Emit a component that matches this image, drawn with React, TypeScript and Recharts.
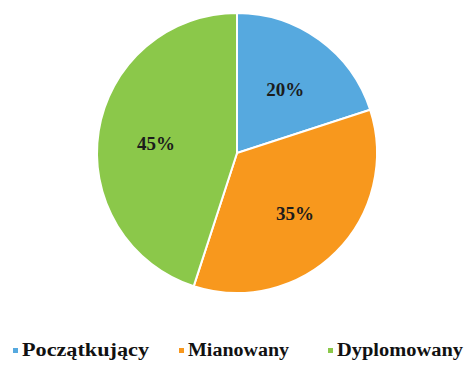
import React from "react";
import { PieChart, Pie, Cell, Legend } from "recharts";

if (typeof document !== "undefined") {
  document.body.style.margin = "0";
}

const categories = ["Początkujący", "Mianowany", "Dyplomowany"];
const values = [20, 35, 45];
const colors = ["#56a9df", "#f8981d", "#8bc84a"];

const data = categories.map((name, i) => ({ name, value: values[i] }));
const total = values.reduce((a, b) => a + b, 0);

const RADIAN = Math.PI / 180;
const renderLabel = (props: any) => {
  const { cx, cy, midAngle, value } = props;
  const r = 82;
  const x = cx + r * Math.cos(-midAngle * RADIAN);
  const y = cy + r * Math.sin(-midAngle * RADIAN) + 3;
  return (
    <text
      x={x}
      y={y}
      textAnchor="middle"
      dominantBaseline="central"
      fontFamily="'Liberation Serif', 'Times New Roman', serif"
      fontWeight="bold"
      fontSize={19}
      fill="#1c1c1c"
    >
      {`${Math.round((value / total) * 100)}%`}
    </text>
  );
};

const legendStarts = [13, 179, 328];
const legendWidths = [127, 101, 126];

const renderLegend = () => (
  <svg width={469} height={30} style={{ display: "block" }}>
    {categories.map((c, i) => (
      <g key={c}>
        <rect x={legendStarts[i]} y={12} width={5} height={5} fill={colors[i]} />
        <text
          x={legendStarts[i] + 9}
          y={20}
          textLength={legendWidths[i]}
          lengthAdjust="spacingAndGlyphs"
          fontFamily="'Liberation Serif', 'Times New Roman', serif"
          fontWeight="bold"
          fontSize={18}
          fill="#111"
        >
          {c}
        </text>
      </g>
    ))}
  </svg>
);

export default function App() {
  return (
    <div style={{ width: 469, height: 366, background: "#fff" }}>
      <PieChart width={469} height={366} margin={{ top: 0, right: 0, bottom: 0, left: 0 }}>
        <Pie
          data={data}
          dataKey="value"
          nameKey="name"
          cx={237}
          cy={153}
          outerRadius={140}
          startAngle={90}
          endAngle={-270}
          stroke="#ffffff"
          strokeWidth={2}
          label={renderLabel}
          labelLine={false}
          isAnimationActive={false}
        >
          {data.map((d, i) => (
            <Cell key={d.name} fill={colors[i]} />
          ))}
        </Pie>
        <Legend
          content={renderLegend}
          wrapperStyle={{ position: "absolute", left: 0, top: 336, width: 469 }}
        />
      </PieChart>
    </div>
  );
}
